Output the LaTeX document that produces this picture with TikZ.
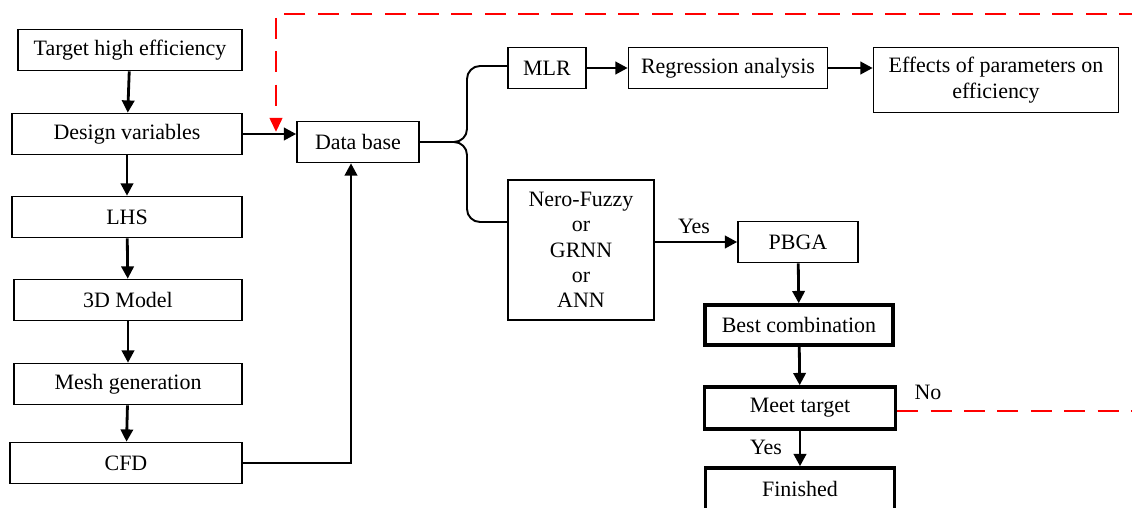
\documentclass[tikz,border=0pt]{standalone}
\usepackage{fontspec}
\setmainfont{Liberation Serif}
\usetikzlibrary{arrows.meta}
\definecolor{fbred}{HTML}{FF0000}

\tikzset{
  box/.style={draw, line width=0.9pt, minimum height=0.82cm, inner sep=2pt,
    align=center, font=\fontsize{12.5}{14.4}\selectfont},
  boldbox/.style={box, line width=2pt},
  flow/.style={-{Triangle[length=7pt,width=7pt]}, line width=1.6pt},
  brace line/.style={line width=1.1pt, rounded corners=0.26cm},
  feedback/.style={fbred, line width=1.7pt, dash pattern=on 12pt off 7pt},
  lbl/.style={font=\fontsize{12.5}{14.4}\selectfont}
}

\begin{document}
\begin{tikzpicture}[x=0.02cm, y=-0.02cm]
  \useasboundingbox (0,0) rectangle (1132,507);
  \clip (0,0) rectangle (1132,507);

  % left column
  \node[box, minimum width=4.48cm] (target) at (130,50) {Target high efficiency};
  \node[box, minimum width=4.6cm] (design) at (127,134) {Design variables};
  \node[box, minimum width=4.6cm] (lhs) at (127,217) {LHS};
  \node[box, minimum width=4.56cm] (model) at (128,300) {3D Model};
  \node[box, minimum width=4.56cm] (mesh) at (128,384) {Mesh generation};
  \node[box, minimum width=4.64cm] (cfd) at (126,463) {CFD};

  % data base and models
  \node[box, minimum width=2.44cm] (db) at (358,142) {Data base};
  \node[box, minimum width=1.56cm] (mlr) at (547,68) {MLR};
  \node[box, minimum width=3.98cm] (reg) at (728,68) {Regression analysis};
  \node[box, minimum width=4.9cm, minimum height=1.3cm] (effects) at (996,80) {Effects of parameters on\\efficiency};
  \node[box, minimum width=2.92cm, minimum height=2.8cm] (nero) at (581,250) {Nero-Fuzzy\\or\\GRNN\\or\\ANN};

  % optimisation
  \node[box, minimum width=2.4cm] (pbga) at (798,242) {PBGA};
  \node[boldbox, minimum width=3.76cm, minimum height=0.8cm] (best) at (799,325) {Best combination};
  \node[boldbox, minimum width=3.82cm, minimum height=0.84cm] (meet) at (800,408) {Meet target};
  \node[boldbox, minimum width=3.78cm, minimum height=0.84cm] (finished) at (800,489) {Finished};

  \draw[flow] (target) -- (design);
  \draw[flow] (design) -- (lhs);
  \draw[flow] (lhs) -- (model);
  \draw[flow] (model) -- (mesh);
  \draw[flow] (mesh) -- (cfd);
  \draw[flow] (design.east) -- (design.east -| db.west);
  \draw[flow] (cfd.east) -| ([xshift=-0.14cm]db.south);

  % brace to the two model branches
  \draw[brace line] (db.east) -- (467,142) -- (467,66) -- (mlr.west |- 0,66);
  \draw[brace line] (db.east) -- (467,142) -- (467,222) -- ([yshift=0.56cm]nero.west);

  \draw[flow] (mlr) -- (reg);
  \draw[flow] (reg.east) -- (reg.east -| effects.west);
  \draw[flow] (pbga.west -| nero.east) -- (pbga.west);
  \node[lbl] (yes1) at (694,226) {Yes};
  \draw[flow] (pbga) -- (best);
  \draw[flow] (best) -- (meet);
  \draw[flow] (meet) -- (finished);
  \node[lbl] (yes2) at (766,447) {Yes};

  % feedback loop
  \coordinate (fbtop) at (1140,14);
  \coordinate (fbdrop) at (276,132);
  \coordinate (fbend) at (1140,411);
  \draw[feedback, -{Triangle[length=8pt,width=7pt]}] (fbtop) -| (fbdrop);
  \draw[feedback] (meet.east |- fbend) -- (fbend);
  \node[lbl] (no) at (928,392) {No};
\end{tikzpicture}
\end{document}
